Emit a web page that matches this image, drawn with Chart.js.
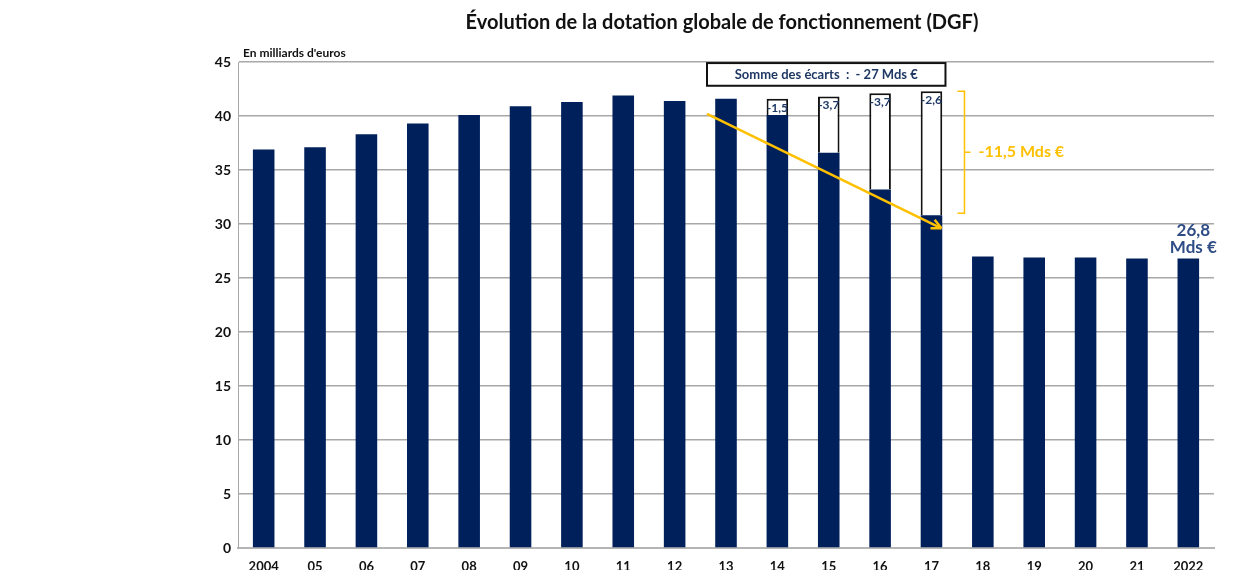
<!DOCTYPE html>
<html>
<head>
<meta charset="utf-8">
<script src="https://cdn.jsdelivr.net/npm/chart.js@4/dist/chart.umd.min.js"></script>
<style>
    html, body { margin: 0; padding: 0; background: #fff; }
    #wrap { width: 1248px; height: 570px; position: relative; }
</style>
</head>
<body>
<div id="wrap"><canvas id="dgfChart" width="1248" height="570"></canvas></div>
<script>
// Data
const years = ['2004', '05', '06', '07', '08', '09', '10', '11', '12', '13', '14', '15', '16', '17', '18', '19', '20', '21', '2022'];
const dgf = [36.9, 37.1, 38.3, 39.3, 40.1, 40.9, 41.3, 41.9, 41.4, 41.6, 40.1, 36.6, 33.2, 30.8, 27.0, 26.9, 26.9, 26.8, 26.8];
// cumulative gap since 2013 (white boxes)
const gaps = [null, null, null, null, null, null, null, null, null, null, 1.5, 5.2, 8.9, 11.5, null, null, null, null, null];
const gapLabels = [null, null, null, null, null, null, null, null, null, null, '-1,5', '-3,7', '-3,7', '-2,6', null, null, null, null, null];
const yTicks = [0, 5, 10, 15, 20, 25, 30, 35, 40, 45];

const NAVY = '#00205B';
const ORANGE = '#FFC000';
const TEXT_BLUE = '#1F3864';
const FONT = 'Lato, "Open Sans", sans-serif';

// Annotations drawn on top of the chart
const annotations = {
    id: 'annotations',
    afterDraw(chart) {
        const { ctx, scales: { x, y } } = chart;
        ctx.save();

        // Title
        ctx.fillStyle = '#111';
        ctx.font = 'bold 20px ' + FONT;
        ctx.textAlign = 'center';
        ctx.textBaseline = 'middle';
        ctx.fillText('Évolution de la dotation globale de fonctionnement (DGF)', 722, 23);

        // Unit label
        ctx.font = 'bold 12px ' + FONT;
        ctx.textAlign = 'left';
        ctx.fillText("En milliards d'euros", 243, 53);

        // Gap labels inside boxes
        ctx.font = 'bold 12px ' + FONT;
        ctx.fillStyle = TEXT_BLUE;
        ctx.textAlign = 'center';
        gapLabels.forEach((lbl, i) => {
            if (!lbl) return;
            const top = y.getPixelForValue(dgf[i] + gaps[i]);
            ctx.fillText(lbl, x.getPixelForValue(i), top + 9);
        });

        // Summary box
        const bx1 = x.getPixelForValue(9) - 19;
        const bx2 = x.getPixelForValue(13) + 14;
        const by1 = y.getPixelForValue(44.9);
        const by2 = y.getPixelForValue(42.8);
        ctx.fillStyle = '#fff';
        ctx.fillRect(bx1, by1, bx2 - bx1, by2 - by1);
        ctx.strokeStyle = '#111';
        ctx.lineWidth = 2;
        ctx.strokeRect(bx1, by1, bx2 - bx1, by2 - by1);
        ctx.fillStyle = TEXT_BLUE;
        ctx.font = 'bold 13px ' + FONT;
        ctx.fillText('Somme des écarts  :  - 27 Mds €', (bx1 + bx2) / 2, (by1 + by2) / 2);

        // Orange arrow from 2013 to 2017
        const ax1 = x.getPixelForValue(9) - 19, ay1 = y.getPixelForValue(40.2);
        const ax2 = x.getPixelForValue(13) + 10, ay2 = y.getPixelForValue(29.6);
        ctx.strokeStyle = ORANGE;
        ctx.fillStyle = ORANGE;
        ctx.lineWidth = 2.5;
        ctx.beginPath();
        ctx.moveTo(ax1, ay1);
        ctx.lineTo(ax2, ay2);
        ctx.stroke();
        const ang = Math.atan2(ay2 - ay1, ax2 - ax1);
        ctx.beginPath();
        ctx.moveTo(ax2, ay2);
        ctx.lineTo(ax2 - 11 * Math.cos(ang - 0.45), ay2 - 11 * Math.sin(ang - 0.45));
        ctx.moveTo(ax2, ay2);
        ctx.lineTo(ax2 - 11 * Math.cos(ang + 0.45), ay2 - 11 * Math.sin(ang + 0.45));
        ctx.stroke();

        // Bracket
        const kx = x.getPixelForValue(13) + 33;
        const ky1 = y.getPixelForValue(42.3), ky2 = y.getPixelForValue(31.0);
        const kym = (ky1 + ky2) / 2;
        ctx.lineWidth = 1.5;
        ctx.beginPath();
        ctx.moveTo(kx - 7, ky1);
        ctx.lineTo(kx, ky1);
        ctx.lineTo(kx, ky2);
        ctx.lineTo(kx - 7, ky2);
        ctx.moveTo(kx, kym);
        ctx.lineTo(kx + 6, kym);
        ctx.stroke();
        ctx.font = 'bold 16px ' + FONT;
        ctx.textAlign = 'left';
        ctx.fillText('-11,5 Mds €', kx + 14, kym);

        // Last value label
        const lx = x.getPixelForValue(18) + 5;
        ctx.fillStyle = '#2E4C85';
        ctx.font = 'bold 17px ' + FONT;
        ctx.textAlign = 'center';
        ctx.fillText('26,8', lx, y.getPixelForValue(29.4));
        ctx.fillText('Mds €', lx, y.getPixelForValue(27.8));

        ctx.restore();
    }
};

new Chart(document.getElementById('dgfChart'), {
    type: 'bar',
    data: {
        labels: years,
        datasets: [{
            label: 'DGF',
            data: dgf,
            backgroundColor: NAVY,
            borderWidth: 0,
            barPercentage: 0.42,
            categoryPercentage: 1
        }, {
            label: 'Écart',
            data: gaps,
            backgroundColor: '#fff',
            borderColor: '#111',
            borderWidth: 2,
            barPercentage: 0.42,
            categoryPercentage: 1
        }]
    },
    options: {
        responsive: false,
        animation: false,
        layout: { padding: { top: 62, right: 34, left: 0, bottom: 0 } },
        plugins: {
            legend: { display: false },
            tooltip: { enabled: false }
        },
        scales: {
            x: {
                stacked: true,
                grid: { display: false, drawTicks: false },
                border: { color: '#b5b5b5', width: 2 },
                ticks: {
                    color: '#111',
                    font: { family: FONT, size: 13, weight: 'bold' },
                    padding: 11,
                    maxRotation: 0,
                    autoSkip: false
                },
                afterFit: (s) => { s.height = 22; }
            },
            y: {
                stacked: true,
                min: 0,
                max: 45,
                afterBuildTicks: (s) => { s.ticks = yTicks.map(v => ({ value: v })); },
                grid: { color: '#a8a8a8', lineWidth: 1.5, drawTicks: false },
                border: { color: '#a8a8a8', width: 1 },
                ticks: {
                    color: '#111',
                    font: { family: FONT, size: 14, weight: 'bold' },
                    padding: 7
                },
                afterFit: (s) => { s.width = 238; }
            }
        }
    },
    plugins: [annotations]
});
</script>
</body>
</html>
